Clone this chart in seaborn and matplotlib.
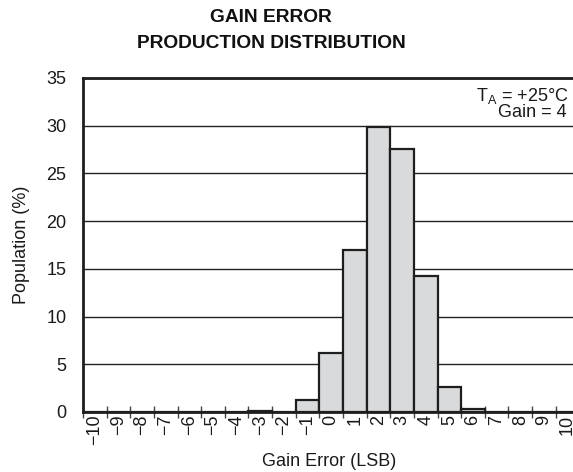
import matplotlib
matplotlib.use("Agg")
import matplotlib.pyplot as plt
import seaborn as sns
import pandas as pd

# Gain error bins (LSB) and production population share (%)
gain_error_lsb = [-10, -9, -8, -7, -6, -5, -4, -3, -2, -1, 0,
                  1, 2, 3, 4, 5, 6, 7, 8, 9, 10]
population_pct = [0.0, 0.0, 0.0, 0.0, 0.0, 0.0, 0.0, 0.15, 0.05, 1.3, 6.2,
                  17.0, 29.85, 27.55, 14.3, 2.6, 0.35, 0.0, 0.0, 0.0, 0.0]
tick_labels = ["\u221210", "\u22129", "\u22128", "\u22127", "\u22126", "\u22125",
               "\u22124", "\u22123", "\u22122", "\u22121", "0", "1", "2", "3",
               "4", "5", "6", "7", "8", "9", "10"]
y_ticks = [0, 5, 10, 15, 20, 25, 30, 35]

sns.set_theme(style="white")
plt.rcParams["font.family"] = ["Liberation Sans", "DejaVu Sans"]
plt.rcParams["mathtext.fontset"] = "custom"
plt.rcParams["mathtext.rm"] = "Liberation Sans"

FS = 13

df = pd.DataFrame({"err": [str(v) for v in gain_error_lsb],
                   "pop": population_pct})

fig = plt.figure(figsize=(5.73, 4.72), dpi=100)
ax = fig.add_axes([83 / 573, 1 - 412 / 472, 1 - 83 / 573, (412 - 78) / 472])

sns.barplot(data=df, x="err", y="pop", order=df["err"].tolist(),
            color="#d9dadc", saturation=1, edgecolor="#1e1e1e",
            linewidth=1.6, width=1.0, ax=ax, zorder=2)

ax.set_ylim(0, 35)
ax.set_yticks(y_ticks)
ax.set_yticklabels([str(v) for v in y_ticks], fontsize=FS, color="#1a1a1a")
ax.set_xlim(-0.5, 20.23)

n = len(gain_error_lsb)
ax.set_xticks([i - 0.5 for i in range(n)])
ax.set_xticklabels([])
ax.set_xticks(list(range(n)), minor=True)
ax.set_xticklabels(tick_labels, minor=True, rotation=90, fontsize=FS,
                   color="#1a1a1a")
ax.tick_params(axis="x", which="major", direction="inout", length=8,
               width=1.0, color="#444444", bottom=True)
ax.tick_params(axis="x", which="minor", length=0, pad=2)
ax.tick_params(axis="y", length=0, pad=12)

ax.set_axisbelow(True)
ax.yaxis.grid(True, color="#222222", linewidth=1.0)
ax.xaxis.grid(False)

for side in ["left", "top", "bottom"]:
    ax.spines[side].set_visible(True)
    ax.spines[side].set_color("#1e1e1e")
    ax.spines[side].set_linewidth(2.0)
ax.spines["right"].set_visible(False)

ax.set_xlabel("")
ax.set_ylabel("")
fig.text(22 / 573, 1 - 245 / 472, "Population (%)", rotation=90,
         ha="center", va="center", fontsize=FS, color="#1a1a1a")
fig.text(329 / 573, 1 - 461 / 472, "Gain Error (LSB)",
         ha="center", va="center", fontsize=FS, color="#1a1a1a")

fig.text(271 / 573, 1 - 18 / 472, "GAIN ERROR", ha="center", va="center",
         fontsize=13.8, fontweight="bold", color="#111111")
fig.text(271 / 573, 1 - 43 / 472, "PRODUCTION DISTRIBUTION", ha="center",
         va="center", fontsize=13.8, fontweight="bold", color="#111111")

fig.text(569 / 573, 1 - 101 / 472, r"T$_\mathregular{A}$ = +25°C",
         ha="right", va="baseline", fontsize=FS, color="#1a1a1a")
fig.text(567 / 573, 1 - 116.5 / 472, "Gain = 4",
         ha="right", va="baseline", fontsize=FS, color="#1a1a1a")

fig.savefig("out.png", dpi=100)
